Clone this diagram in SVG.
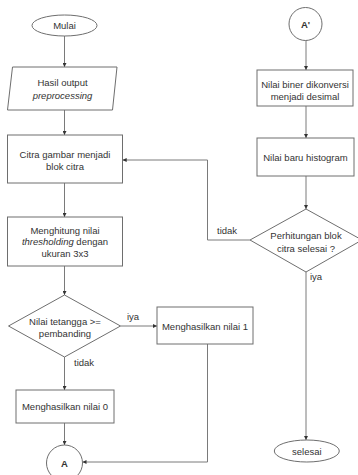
<svg xmlns="http://www.w3.org/2000/svg" width="358" height="475" viewBox="0 0 358 475">
<style>
.s{fill:#fff;stroke:#6e6e6e;stroke-width:1}
.c{fill:none;stroke:#7a7a7a;stroke-width:1}
text{font-family:"Liberation Sans",Arial,sans-serif;font-size:9.5px;fill:#333;text-anchor:middle}
.l{text-anchor:start}
.i{font-style:italic}
.b{font-weight:bold}
</style>
<defs>
<marker id="ah" viewBox="0 0 6 6" refX="6" refY="3" markerWidth="4" markerHeight="4" orient="auto">
<path d="M0,0 L6,3 L0,6 z" fill="#333"/>
</marker>
</defs>
<rect width="358" height="475" fill="#fff"/>
<g id="connectors">
<line class="c" x1="64.5" y1="36" x2="64.5" y2="67" marker-end="url(#ah)"/>
<line class="c" x1="64.5" y1="110" x2="64.5" y2="135" marker-end="url(#ah)"/>
<line class="c" x1="64.5" y1="183" x2="64.5" y2="217" marker-end="url(#ah)"/>
<line class="c" x1="64.5" y1="266" x2="64.5" y2="295" marker-end="url(#ah)"/>
<line class="c" x1="120.5" y1="326" x2="157" y2="326" marker-end="url(#ah)"/>
<line class="c" x1="64.5" y1="357" x2="64.5" y2="390" marker-end="url(#ah)"/>
<line class="c" x1="64.5" y1="423" x2="64.5" y2="445" marker-end="url(#ah)"/>
<polyline class="c" points="207.5,344 207.5,462 82.5,462" marker-end="url(#ah)"/>
<line class="c" x1="306" y1="40" x2="306" y2="70" marker-end="url(#ah)"/>
<line class="c" x1="306" y1="106" x2="306" y2="138" marker-end="url(#ah)"/>
<line class="c" x1="306" y1="176" x2="306" y2="209" marker-end="url(#ah)"/>
<polyline class="c" points="250,240 207.5,240 207.5,160 122.7,160" marker-end="url(#ah)"/>
<line class="c" x1="306" y1="272" x2="306" y2="440" marker-end="url(#ah)"/>
<text class="l" x="127" y="320">iya</text>
<text class="l" x="74" y="366">tidak</text>
<text class="l" x="217" y="234">tidak</text>
<text class="l" x="310" y="280">iya</text>
</g>
<g id="mulai">
<ellipse class="s" cx="64.5" cy="25.5" rx="32.5" ry="10.5"/>
<text x="64.5" y="29">Mulai</text>
</g>
<g id="hasil">
<polygon class="s" points="12.5,67 117,67 112.5,110 7.5,110"/>
<text x="62.5" y="86">Hasil output</text>
<text class="i" x="62.5" y="99">preprocessing</text>
</g>
<g id="citra">
<rect class="s" x="7.5" y="135" width="115" height="48"/>
<text x="65" y="158">Citra gambar menjadi</text>
<text x="65" y="170">blok citra</text>
</g>
<g id="menghitung">
<rect class="s" x="7.5" y="217" width="115" height="49"/>
<text x="65" y="233.5">Menghitung nilai</text>
<text x="65" y="245"><tspan class="i">thresholding</tspan> dengan</text>
<text x="65" y="256.5">ukuran 3x3</text>
</g>
<g id="nilai-tetangga">
<polygon class="s" points="64.5,295 120.5,326 64.5,357 8.5,326"/>
<text x="65" y="325">Nilai tetangga &gt;=</text>
<text x="65" y="336.5">pembanding</text>
</g>
<g id="nilai1">
<rect class="s" x="157" y="307" width="96" height="37"/>
<text x="205" y="329.5">Menghasilkan nilai 1</text>
</g>
<g id="nilai0">
<rect class="s" x="16" y="390" width="98" height="33"/>
<text x="65" y="410">Menghasilkan nilai 0</text>
</g>
<g id="a">
<circle class="s" cx="64.5" cy="463" r="18"/>
<text class="b" x="64.5" y="466.5">A</text>
</g>
<g id="a-prime">
<circle class="s" cx="305.5" cy="24" r="16.5"/>
<text class="b" x="305.5" y="27.5">A'</text>
</g>
<g id="biner">
<rect class="s" x="257" y="70" width="96" height="36"/>
<text x="305" y="88">Nilai biner dikonversi</text>
<text x="305" y="100">menjadi desimal</text>
</g>
<g id="histogram">
<rect class="s" x="257" y="138" width="97" height="38"/>
<text x="305.5" y="161">Nilai baru histogram</text>
</g>
<g id="perhitungan">
<polygon class="s" points="306,209 362,240 306,272 250,240"/>
<text x="306" y="239">Perhitungan blok</text>
<text x="306" y="251.5">citra selesai ?</text>
</g>
<g id="selesai">
<ellipse class="s" cx="306.8" cy="451" rx="32.5" ry="11"/>
<text x="306.8" y="454.5">selesai</text>
</g>
</svg>
